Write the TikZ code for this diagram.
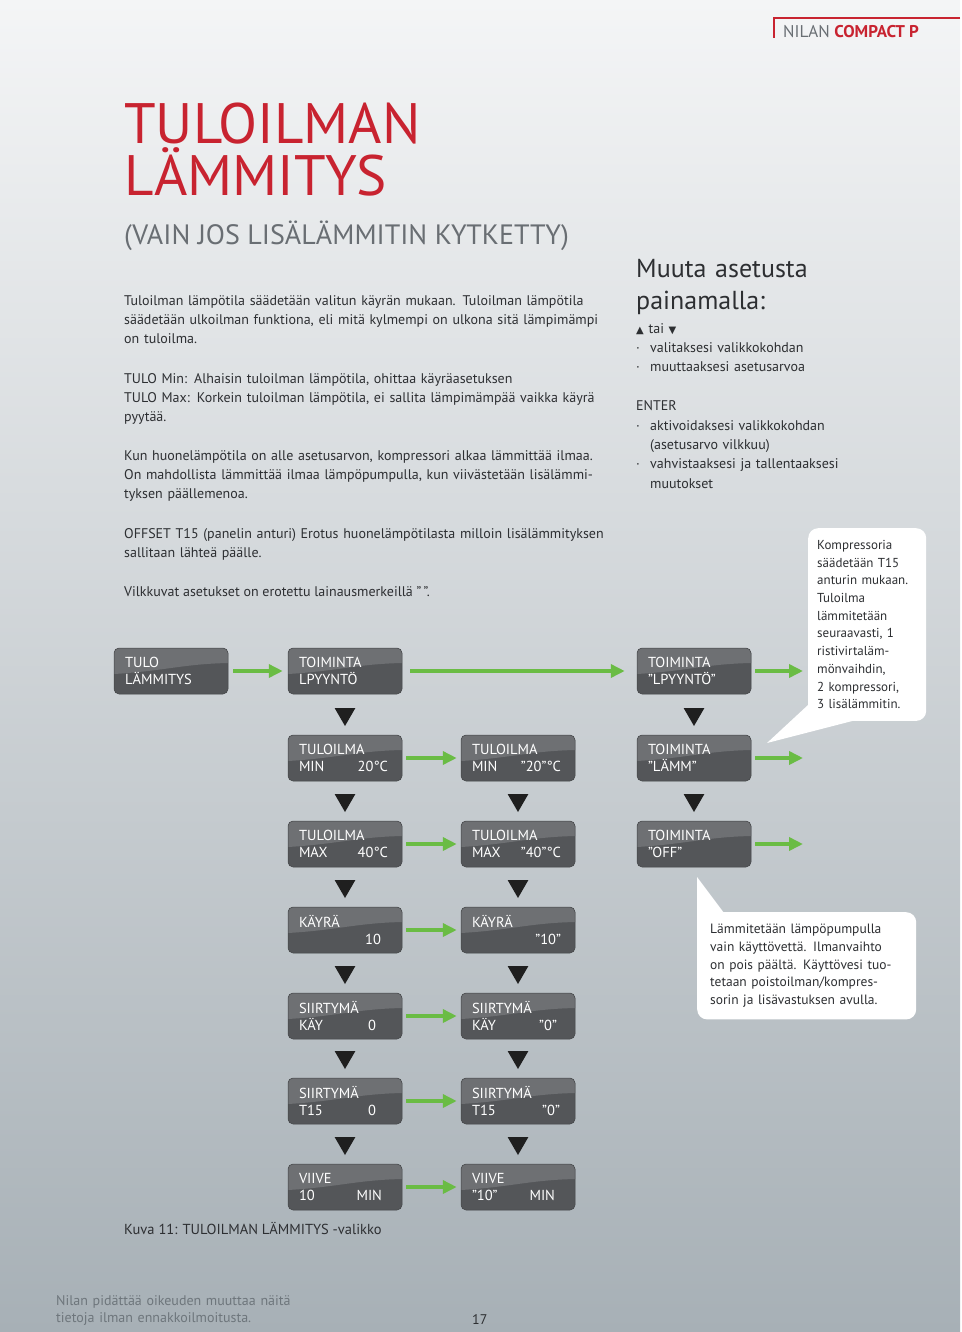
\documentclass[tikz,border=0pt]{standalone}
\usepackage{fontspec}
\setmainfont{PT Sans}
\newfontfamily\tlsym{DejaVu Sans}
\usetikzlibrary{arrows.meta,shapes.geometric}

\definecolor{tlred}{RGB}{200,35,48}
\definecolor{tlgray}{RGB}{105,110,115}
\definecolor{tltext}{RGB}{45,47,50}
\definecolor{tlfoot}{RGB}{110,118,124}
\definecolor{tlgreen}{RGB}{106,188,68}
\definecolor{tltop}{RGB}{110,112,115}
\definecolor{tlbot}{RGB}{84,86,89}
\definecolor{tlbgtop}{RGB}{244,245,246}
\definecolor{tlbgmid}{RGB}{207,212,216}
\definecolor{tlbgbot}{RGB}{167,176,182}

\newcommand\tlbody{\fontsize{14}{19.4}\selectfont}
\newcommand\tlboxfont{\fontsize{14.5}{17}\selectfont}
\newcommand\tlnotefont{\fontsize{13}{17.7}\selectfont}
\newcommand\tlbul{\makebox[14pt][l]{·}}

\tikzset{
  tlbox/.style={rounded corners=5pt, fill=tlbot, draw=tlbot!80!black, line width=0.5pt,
                minimum width=114pt, minimum height=46pt, text width=92pt,
                inner xsep=11pt, inner ysep=0pt, align=left, text=white, font=\tlboxfont,
                path picture={\fill[tltop, sharp corners] (path picture bounding box.north west)
                  -- (path picture bounding box.north east)
                  -- ([yshift=-15pt]path picture bounding box.north east)
                  .. controls +(-45pt,-1pt) and +(50pt,3pt) ..
                  ([yshift=-26pt]path picture bounding box.north west) -- cycle;}},
  tlar/.style={-{Triangle[length=14pt,width=13pt]}, line width=4pt, draw=tlgreen,
               shorten <=5pt, shorten >=5pt},
  tldn/.style={regular polygon, regular polygon sides=3, shape border rotate=180,
               fill=black!88, inner sep=0pt, minimum size=24pt},
  tlnote/.style={fill=white, rounded corners=10pt, align=left, anchor=north west,
                 inner xsep=12pt, inner ysep=12pt, text=tltext, font=\tlnotefont},
  tltxt/.style={anchor=base west, inner sep=0pt, align=left, text=tltext, font=\tlbody},
}

\begin{document}
\begin{tikzpicture}[x=1pt, y=-1pt]
  % page background
  \shade[top color=tlbgtop, middle color=tlbgmid, bottom color=tlbgbot] (0,0) rectangle (960,1332);

  % header
  \draw[tlred, line width=2pt] (960,18) -- (774,18) -- (774,38);
  \node[tltxt, font=\fontsize{17}{19}\selectfont] (brand) at (783,38)
    {\textcolor{tlgray}{NILAN} \textcolor{tlred}{\bfseries COMPACT P}};

  % title and text
  \node[tltxt, text width=500pt, text=tlred, font=\fontsize{57}{52}\selectfont] (title) at (124,144)
    {TULOILMAN\\LÄMMITYS};
  \node[tltxt, text=tlgray, font=\fontsize{28}{30}\selectfont] (sub) at (124,245)
    {(VAIN JOS LISÄLÄMMITIN KYTKETTY)};

  \node[tltxt, text width=540pt] (intro) at (124,305)
    {Tuloilman lämpötila säädetään valitun käyrän mukaan. Tuloilman lämpötila\\
     säädetään ulkoilman funktiona, eli mitä kylmempi on ulkona sitä lämpimämpi\\
     on tuloilma.};
  \node[tltxt, text width=540pt] (limits) at (124,383)
    {TULO Min: Alhaisin tuloilman lämpötila, ohittaa käyräasetuksen\\
     TULO Max: Korkein tuloilman lämpötila, ei sallita lämpimämpää vaikka käyrä\\
     pyytää.};
  \node[tltxt, text width=540pt] (heat) at (124,460)
    {Kun huonelämpötila on alle asetusarvon, kompressori alkaa lämmittää ilmaa.\\
     On mahdollista lämmittää ilmaa lämpöpumpulla, kun viivästetään lisälämmi-\\
     tyksen päällemenoa.};
  \node[tltxt, text width=540pt] (offset) at (124,538)
    {OFFSET T15 (panelin anturi) Erotus huonelämpötilasta milloin lisälämmityksen\\
     sallitaan lähteä päälle.};
  \node[tltxt] (blink) at (124,596) {Vilkkuvat asetukset on erotettu lainausmerkeillä ”\,”.};

  \node[tltxt, text width=310pt, font=\fontsize{26}{32}\selectfont] (muuta) at (636,277)
    {Muuta asetusta\\painamalla:};
  \node[tltxt, text width=310pt] (keys) at (636,333)
    {{\tlsym\fontsize{10}{10}\selectfont ▲} tai {\tlsym\fontsize{10}{10}\selectfont ▼}\\
     \tlbul valitaksesi valikkokohdan\\
     \tlbul muuttaaksesi asetusarvoa\\[19.4pt]
     ENTER\\
     \tlbul aktivoidaksesi valikkokohdan\\
     \hspace*{14pt}(asetusarvo vilkkuu)\\
     \tlbul vahvistaaksesi ja tallentaaksesi\\
     \hspace*{14pt}muutokset};

  % callouts
  \coordinate (kompr-tip) at (767,743);
  \fill[white] (808,705) -- (kompr-tip) -- (860,719) -- cycle;
  \node[tlnote, text width=100pt, inner xsep=9pt] (kompr) at (808,528)
    {Kompressoria\\säädetään T15\\anturin mukaan.\\Tuloilma\\lämmitetään\\seuraavasti, 1\\
     ristivirtaläm-\\mönvaihdin,\\2 kompressori,\\3 lisälämmitin.};

  \coordinate (kayttov-tip) at (697,877);
  \fill[white] (697,925) -- (kayttov-tip) -- (724,913) -- cycle;
  \node[tlnote, text width=193pt, inner xsep=13pt, font=\fontsize{13.5}{17.7}\selectfont] (kayttov) at (697,912)
    {Lämmitetään lämpöpumpulla\\vain käyttövettä. Ilmanvaihto\\on pois päältä. Käyttövesi tuo-\\
     tetaan poistoilman/kompres-\\sorin ja lisävastuksen avulla.};

  % menu displays
  \node[tlbox] (lamm)   at (171,671)  {TULO\\LÄMMITYS};
  \node[tlbox] (lpyy)   at (345,671)  {TOIMINTA\\LPYYNTÖ};
  \node[tlbox] (lpyyq)  at (694,671)  {TOIMINTA\\”LPYYNTÖ”};
  \node[tlbox] (minv)   at (345,758)  {TULOILMA\\MIN\hfill 20°C\hspace*{3pt}};
  \node[tlbox] (minq)   at (518,758)  {TULOILMA\\MIN\hfill ”20”°C\hspace*{3pt}};
  \node[tlbox] (tlamm)  at (694,758)  {TOIMINTA\\”LÄMM”};
  \node[tlbox] (maxv)   at (345,844)  {TULOILMA\\MAX\hfill 40°C\hspace*{3pt}};
  \node[tlbox] (maxq)   at (518,844)  {TULOILMA\\MAX\hfill ”40”°C\hspace*{3pt}};
  \node[tlbox] (toff)   at (694,844)  {TOIMINTA\\”OFF”};
  \node[tlbox] (kayra)  at (345,930)  {KÄYRÄ\\\mbox{}\hfill 10\hspace*{10pt}};
  \node[tlbox] (kayraq) at (518,930)  {KÄYRÄ\\\mbox{}\hfill ”10”\hspace*{3pt}};
  \node[tlbox] (kay)    at (345,1016) {SIIRTYMÄ\\KÄY\hfill 0\hspace*{15pt}};
  \node[tlbox] (kayq)   at (518,1016) {SIIRTYMÄ\\KÄY\hfill ”0”\hspace*{7pt}};
  \node[tlbox] (t15)    at (345,1101) {SIIRTYMÄ\\T15\hfill 0\hspace*{15pt}};
  \node[tlbox] (t15q)   at (518,1101) {SIIRTYMÄ\\T15\hfill ”0”\hspace*{4pt}};
  \node[tlbox] (viive)  at (345,1187) {VIIVE\\10\hfill MIN\hspace*{9pt}};
  \node[tlbox] (viiveq) at (518,1187) {VIIVE\\”10”\hfill MIN\hspace*{9pt}};

  % down markers
  \node[tldn] (d1)  at (345,714)  {};
  \node[tldn] (d2)  at (345,800)  {};
  \node[tldn] (d3)  at (345,886)  {};
  \node[tldn] (d4)  at (345,972)  {};
  \node[tldn] (d5)  at (345,1057) {};
  \node[tldn] (d6)  at (345,1143) {};
  \node[tldn] (d7)  at (518,800)  {};
  \node[tldn] (d8)  at (518,886)  {};
  \node[tldn] (d9)  at (518,972)  {};
  \node[tldn] (d10) at (518,1057) {};
  \node[tldn] (d11) at (518,1143) {};
  \node[tldn] (d12) at (694,714)  {};
  \node[tldn] (d13) at (694,800)  {};

  % green arrows
  \coordinate (tlamm-out) at (803,758);
  \coordinate (toff-out) at (803,844);
  \draw[tlar] (lamm) -- (lpyy);
  \draw[tlar, shorten <=8pt, shorten >=12pt] (lpyy) -- (lpyyq);
  \draw[tlar, shorten <=4pt] (lpyyq) -- (lpyyq -| kompr.west);
  \draw[tlar, shorten <=4pt, shorten >=0pt] (tlamm) -- (tlamm-out);
  \draw[tlar, shorten <=4pt, shorten >=0pt] (toff) -- (toff-out);
  \draw[tlar, shorten <=4pt, shorten >=4pt] (minv) -- (minq);
  \draw[tlar, shorten <=4pt, shorten >=4pt] (maxv) -- (maxq);
  \draw[tlar, shorten <=4pt, shorten >=4pt] (kayra) -- (kayraq);
  \draw[tlar, shorten <=4pt, shorten >=4pt] (kay) -- (kayq);
  \draw[tlar, shorten <=4pt, shorten >=4pt] (t15) -- (t15q);
  \draw[tlar, shorten <=4pt, shorten >=4pt] (viive) -- (viiveq);

  % caption and footer
  \node[tltxt, font=\fontsize{14.5}{17}\selectfont] (kuva) at (124,1234) {Kuva 11: TULOILMAN LÄMMITYS -valikko};
  \node[tltxt, text width=300pt, text=tlfoot, font=\fontsize{14}{17}\selectfont] (footer) at (56,1305)
    {Nilan pidättää oikeuden muuttaa näitä\\tietoja ilman ennakkoilmoitusta.};
  \node[tltxt, font=\fontsize{14}{17}\selectfont] (page) at (472,1324) {17};
\end{tikzpicture}
\end{document}
